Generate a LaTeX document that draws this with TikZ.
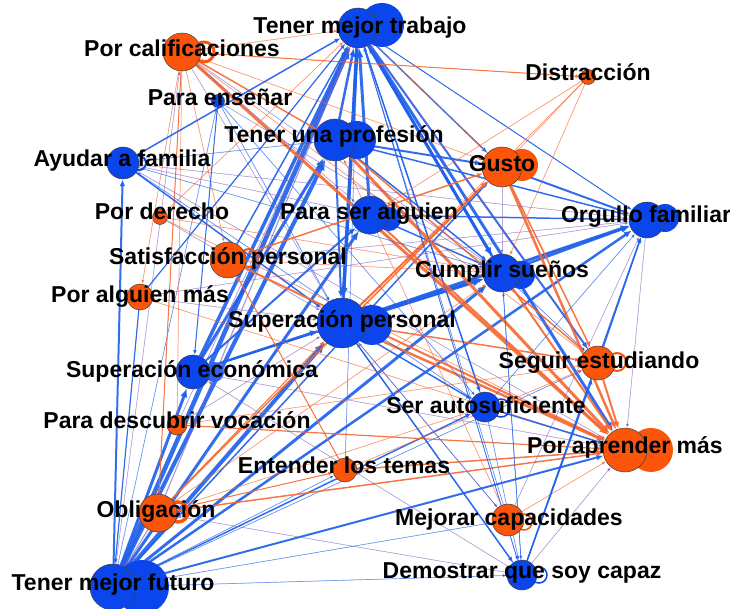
\documentclass[tikz,border=0pt]{standalone}
\usepackage{fontspec}
\setmainfont{Liberation Sans}
\usetikzlibrary{arrows.meta}
\definecolor{nblue}{RGB}{10,70,235}
\definecolor{norange}{RGB}{250,85,10}
\definecolor{eblue}{RGB}{30,95,235}
\definecolor{eorange}{RGB}{245,105,50}
\definecolor{emix}{RGB}{125,95,185}
\pgfdeclarelayer{edges}
\pgfdeclarelayer{loops}
\pgfdeclarelayer{labels}
\pgfsetlayers{edges,loops,main,labels}
\tikzset{
  nd/.style={circle, inner sep=0pt, draw=black!75, line width=0.5pt, minimum size=#1},
  bn/.style={nd=#1, fill=nblue},
  on/.style={nd=#1, fill=norange},
  lab/.style={anchor=base, inner sep=0pt, text=black,
    font=\bfseries\fontsize{23}{27}\selectfont},
  ee/.style={line width=#1, -{Latex[length=2.5pt 2.2, width=2pt 1.8]}},
  eb/.style={ee=#1, draw=eblue, fill=eblue, draw opacity=0.9},
  eo/.style={ee=#1, draw=eorange, fill=eorange, draw opacity=0.9},
  em/.style={ee=#1, draw=emix, fill=emix, draw opacity=0.55},
  tb/.style={ee=0.7pt, draw=eblue, fill=eblue, draw opacity=0.55},
  to/.style={ee=0.7pt, draw=eorange, fill=eorange, draw opacity=0.55},
  tm/.style={ee=0.7pt, draw=emix, fill=emix, draw opacity=0.45},
}
\begin{document}
\begin{tikzpicture}[x=1pt, y=-1pt]
\useasboundingbox (0,0) rectangle (730,609);

% nodes
\node[bn=40pt] (tmt) at (358,28) {};
\node[on=38pt] (pc)  at (182,52) {};
\node[on=15pt] (dis) at (588,77) {};
\node[bn=13pt] (pen) at (218,101) {};
\node[bn=42pt] (tup) at (335,140) {};
\node[on=40pt] (gus) at (502,167) {};
\node[bn=32pt] (af)  at (123,163) {};
\node[on=15pt] (pd)  at (160,217) {};
\node[bn=38pt] (psa) at (370,215) {};
\node[bn=36pt] (of)  at (647,220) {};
\node[on=36pt] (sat) at (228,260) {};
\node[bn=38pt] (cs)  at (502,273) {};
\node[on=26pt] (pal) at (140,297) {};
\node[bn=50pt] (sp)  at (342,323) {};
\node[on=34pt] (seg) at (598,363) {};
\node[bn=34pt] (se)  at (193,372) {};
\node[bn=30pt] (sa)  at (485,407) {};
\node[on=20pt] (pdv) at (177,425) {};
\node[on=44pt] (pam) at (625,450) {};
\node[on=24pt] (et)  at (345,470) {};
\node[on=38pt] (obl) at (158,513) {};
\node[on=32pt] (mc)  at (508,520) {};
\node[bn=46pt] (tmf) at (113,587) {};
\node[bn=30pt] (dq)  at (522,575) {};

% self loops
\begin{pgfonlayer}{loops}
\fill[nblue] (382,25) circle (22pt);
\draw[norange, line width=3pt] (204,52) circle (10pt);
\fill[nblue] (357,140) circle (19pt);
\fill[norange] (522,165) circle (16pt);
\draw[nblue, line width=2pt] (139,163) circle (7pt);
\fill[nblue] (389,219) circle (12pt);
\fill[nblue] (665,218) circle (14pt);
\draw[norange, line width=2pt] (249,258) circle (9pt);
\fill[nblue] (521,275) circle (14pt);
\fill[nblue] (372,325) circle (20pt);
\draw[norange, line width=2pt] (617,362) circle (9pt);
\fill[nblue!85] (214,372) circle (10pt);
\draw[nblue, line width=1.5pt] (501,408) circle (9pt);
\fill[norange] (651,450) circle (22pt);
\draw[norange, line width=3.5pt] (178,512) circle (10pt);
\draw[norange, line width=1.5pt] (524,522) circle (8pt);
\fill[nblue] (142,587) circle (27pt);
\draw[nblue, line width=1.5pt] (539,575) circle (8pt);
\end{pgfonlayer}

% connectors
\begin{pgfonlayer}{edges}
% from Tener mejor futuro
\draw[eb=4.5pt] (tmf) -- (tmt);
\draw[eb=4pt] (tmf) -- (tup);
\draw[eb=4pt] (tmf) -- (sp);
\draw[eb=3pt] (tmf) -- (psa);
\draw[eb=3pt] (tmf) -- (cs);
\draw[eb=2.5pt] (tmf) -- (of);
\draw[eb=3pt] (tmf) -- (se);
\draw[eb=2pt] (tmf) -- (pam);
\draw[eb=1.5pt] (tmf) -- (sa);
\draw[eb=2pt] (tmf) -- (af);
\draw[tb] (tmf) -- (dq);
\draw[tb] (tmf) -- (mc);
\draw[eb=1.5pt] (tmf) -- (gus);
\draw[tb] (tmf) -- (seg);
\draw[tb] (tmf) -- (et);
\draw[tb] (tmf) -- (pen);
\draw[tm] (tmf) -- (pc);
\draw[em=1.2pt] (obl) -- (tmf);
% from Superacion economica
\draw[eb=3.5pt] (se) -- (tmt);
\draw[eb=3pt] (se) -- (tup);
\draw[eb=2.5pt] (se) -- (sp);
\draw[eb=2pt] (se) -- (psa);
\draw[eb=1.5pt] (se) -- (cs);
\draw[tm] (se) -- (pam);
\draw[tb] (se) -- (of);
% from Superacion personal
\draw[eb=3pt] (sp) -- (tmt);
\draw[eb=4pt] (sp) -- (cs);
\draw[eb=3pt] (sp) -- (of);
\draw[eo=2.5pt] (sp) -- (pam);
\draw[eb=1.5pt] (sp) -- (sa);
\draw[eb=1.5pt] (sp) -- (dq);
\draw[tb] (sp) -- (mc);
\draw[eo=2pt] (sp) -- (gus);
\draw[eo=1.5pt] (sp) -- (seg);
% from Tener mejor trabajo
\draw[eb=3.5pt] (tmt) -- (sp);
\draw[eb=1pt] (tmt) -- (of);
\draw[eb=1.5pt] (tmt) -- (gus);
\draw[eb=3pt] (tmt) -- (cs);
\draw[eb=2pt] (tmt) -- (seg);
\draw[eb=3pt] (tmt) -- (pam);
\draw[eb=1.5pt] (tmt) -- (sa);
\draw[tb] (tmt) -- (dq);
% from Para ser alguien
\draw[eb=3pt] (psa) -- (tmt);
\draw[eo=2pt] (psa) -- (pam);
\draw[eb=1.5pt] (psa) -- (cs);
\draw[eb=1.5pt] (psa) -- (of);
% from Tener una profesion
\draw[eb=2.5pt] (tup) -- (tmt);
\draw[eo=3pt] (tup) -- (pam);
\draw[eb=2pt] (tup) -- (gus);
\draw[eb=1.5pt] (tup) -- (of);
\draw[eb=1.5pt] (tup) -- (cs);
\draw[eo=1.5pt] (tup) -- (seg);
\draw[eb=2pt] (tup) -- (sp);
% from Cumplir suenos
\draw[eb=2.5pt] (cs) -- (tmt);
\draw[eb=2.5pt] (cs) -- (of);
\draw[eo=2pt] (cs) -- (pam);
\draw[tb] (cs) -- (seg);
\draw[tb] (cs) -- (dq);
% from Gusto
\draw[eb=2pt] (gus) -- (of);
\draw[eo=2.5pt] (gus) -- (pam);
\draw[eo=1.5pt] (gus) -- (seg);
\draw[tm] (gus) -- (cs);
\draw[to] (gus) -- (tmt);
% from Por calificaciones
\draw[eo=3pt] (pc) -- (pam);
\draw[eo=1pt] (pc) -- (dis);
\draw[to] (pc) -- (tmt);
\draw[to] (pc) -- (sat);
\draw[to] (pc) -- (pal);
\draw[to] (pc) -- (pdv);
\draw[eo=1pt] (pc) -- (obl);
\draw[tm] (pc) -- (sp);
\draw[tm] (pc) -- (cs);
\draw[to] (pc) -- (seg);
\draw[to] (pc) -- (gus);
\draw[eo=1.5pt] (pc) -- (tup);
\draw[tm] (pc) -- (psa);
% from Para ensenar and Ayudar a familia
\draw[eb=1.5pt] (af) -- (tmt);
\draw[eb=1pt] (pen) -- (se);
\draw[tb] (pen) -- (sa);
\draw[tm] (pen) -- (cs);
\draw[tb] (pen) -- (sp);
\draw[eb=1.5pt] (af) -- (sp);
\draw[tm] (af) -- (psa);
\draw[tm] (af) -- (of);
\draw[tb] (af) -- (tup);
\draw[tb] (af) -- (cs);
\draw[tm] (af) -- (pam);
% from Por derecho
\draw[to] (pd) -- (pam);
\draw[tm] (pd) -- (sp);
\draw[to] (pd) -- (cs);
\draw[to] (pd) -- (tmt);
% from Satisfaccion personal
\draw[eo=2pt] (sat) -- (pam);
\draw[eb=1.5pt] (sat) -- (tmt);
\draw[tm] (sat) -- (of);
\draw[to] (sat) -- (cs);
\draw[eo=1.5pt] (sat) -- (gus);
% from Por alguien mas
\draw[eb=1.2pt] (pal) -- (tmt);
\draw[to] (pal) -- (pam);
\draw[tm] (pal) -- (sp);
\draw[eb=1.2pt] (pal) -- (tmf);
\draw[tm] (pal) -- (of);
% from Seguir estudiando
\draw[eo=2pt] (seg) -- (pam);
\draw[eb=1pt] (seg) -- (of);
\draw[tm] (seg) -- (tmt);
% from Para descubrir vocacion
\draw[eo=1.2pt] (pdv) -- (pam);
\draw[tm] (pdv) -- (tmt);
\draw[tm] (pdv) -- (sp);
\draw[to] (pdv) -- (seg);
% from Ser autosuficiente
\draw[eb=1.5pt] (sa) -- (pam);
\draw[tb] (sa) -- (of);
\draw[tb] (sa) -- (dq);
\draw[tb] (sa) -- (tmt);
\draw[tb] (sa) -- (af);
% from Entender los temas
\draw[eo=1.5pt] (et) -- (pam);
\draw[tb] (et) -- (tmt);
\draw[to] (et) -- (seg);
\draw[eo=1pt] (et) -- (sat);
\draw[eo=1pt] (obl) -- (et);
% from Obligacion
\draw[eo=1.5pt] (obl) -- (pam);
\draw[eo=1.5pt] (obl) -- (gus);
\draw[em=1.2pt] (obl) -- (tmt);
\draw[to] (obl) -- (cs);
\draw[eo=1pt] (obl) -- (sp);
\draw[to] (obl) -- (sa);
% from Mejorar capacidades
\draw[to] (mc) -- (pam);
\draw[tm] (mc) -- (of);
\draw[tb] (mc) -- (tmt);
\draw[tm] (mc) -- (sp);
\draw[to] (mc) -- (tup);
% from Demostrar que soy capaz
\draw[eb=1.5pt] (dq) -- (of);
\draw[tm] (dq) -- (pam);
\draw[eb=1.2pt] (dq) -- (seg);
\draw[tb] (dq) -- (sp);
\draw[tb] (dq) -- (tmt);
\draw[tb] (dq) -- (cs);
\draw[tm] (dq) -- (se);
\draw[tm] (dq) -- (obl);
% from Orgullo familiar and Distraccion
\draw[tm] (of) -- (pam);
\draw[to] (dis) -- (sp);
\draw[to] (dis) -- (gus);
\draw[to] (dis) -- (psa);
\draw[to] (dis) -- (cs);
\end{pgfonlayer}

% labels
\begin{pgfonlayer}{labels}
\node[lab] (ltmt) at (360,34) {Tener mejor trabajo};
\node[lab] (lpc)  at (182,57) {Por calificaciones};
\node[lab] (ldis) at (588,81) {Distracción};
\node[lab] (lpen) at (220,106) {Para enseñar};
\node[lab] (ltup) at (334,143) {Tener una profesión};
\node[lab] (lgus) at (502,172) {Gusto};
\node[lab] (laf)  at (122,167) {Ayudar a familia};
\node[lab] (lpd)  at (162,220) {Por derecho};
\node[lab] (lpsa) at (369,220) {Para ser alguien};
\node[lab] (lof)  at (646,223) {Orgullo familiar};
\node[lab] (lsat) at (228,265) {Satisfacción personal};
\node[lab] (lcs)  at (502,278) {Cumplir sueños};
\node[lab] (lpal) at (140,302) {Por alguien más};
\node[lab] (lsp)  at (342,327) {Superación personal};
\node[lab] (lseg) at (599,368) {Seguir estudiando};
\node[lab] (lse)  at (192,377) {Superación económica};
\node[lab] (lsa)  at (486,413) {Ser autosuficiente};
\node[lab] (lpdv) at (177,428) {Para descubrir vocación};
\node[lab] (lpam) at (625,453) {Por aprender más};
\node[lab] (let)  at (344,473) {Entender los temas};
\node[lab] (lobl) at (156,517) {Obligación};
\node[lab] (lmc)  at (509,525) {Mejorar capacidades};
\node[lab] (ltmf) at (113,590) {Tener mejor futuro};
\node[lab] (ldq)  at (522,578) {Demostrar que soy capaz};
\end{pgfonlayer}
\end{tikzpicture}
\end{document}
